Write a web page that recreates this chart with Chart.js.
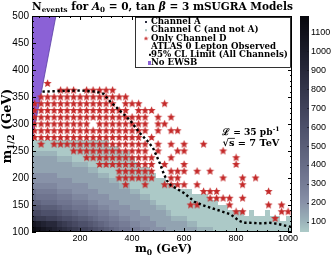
<!DOCTYPE html>
<html>
<head>
<meta charset="utf-8">
<script src="https://cdn.jsdelivr.net/npm/chart.js@4.4.1/dist/chart.umd.min.js"></script>
<style>
  html, body { margin: 0; padding: 0; background: #fff; }
</style>
</head>
<body>
<canvas id="chart" width="331" height="256"></canvas>
<script>
// N events grid: cell centres in m0, cell bottoms in m1/2 (cells are 20 x 10 GeV)
const m0Cells = [20, 40, 60, 80, 100, 120, 140, 160, 180, 200, 220, 240, 260, 280, 300, 320, 340, 360, 380, 400,
  420, 440, 460, 480, 500, 520, 540, 560, 580, 600, 620, 640, 660, 680, 700, 720, 740, 760, 780, 800,
  820, 840, 860, 880, 900, 920, 940, 960, 980, 1000];
const m12Cells = [100, 110, 120, 130, 140, 150, 160, 170, 180, 190, 200, 210, 220, 230, 240, 250, 260];
// one row per m12Cells entry (bottom first), one char per m0 cell: N / 50 in base 36, '.' = no point
const nEventsRows = [
  "nmlkjihgfeedcba98776655444333333222" + "111111111111111",
  "lkjiigfedccba9877665544433333322" + "111111111111111111",
  "gffeedccbaa9877665544443333222" + "111111111111111111" + ".1",
  "ddcccbaa9887766554444333332" + "11111111111111" + ".1..1....",
  "bbaaa988777665544443333322" + "111111111111" + "............",
  "998887776665544443333332" + "111111111111" + "..............",
  "87777666555444433333322" + "11111111111" + "................",
  "766665554444433333322" + "1111111111" + "...................",
  "5555544444433333322" + "111111111" + "......................",
  "44444444333333322" + "111111111" + "........................",
  "444443333333322" + "111111111" + "..........................",
  "3333333333322" + "1111111111" + "...........................",
  "33333333222" + "1111111111" + ".............................",
  "33333222" + "111111111111" + "..............................",
  "22222" + "11111111111111" + "...............................",
  "11111111111111111" + ".................................",
  "111111111111111" + "..................................."
];

// Only Channel D points (stars): grid of 25 x 12.5 GeV
const starM0 = [25, 50, 75, 100, 125, 150, 175, 200, 225, 250, 275, 300, 325, 350, 375, 400, 425, 450, 475, 500,
  525, 550, 575, 600, 625, 650, 675, 700, 725, 750, 775, 800, 825, 850, 875, 900, 925, 950, 975, 1000];
const starM12 = [375, 362.5, 350, 337.5, 325, 312.5, 300, 287.5, 275, 262.5, 250, 237.5, 225, 212.5, 200,
  187.5, 175, 162.5, 150, 137.5, 125];
const starRows = [
  "..*.....................................",
  "....***.*****...........................",
  ".**************.........................",
  "*************.***...*...................",
  "***************.***.....................",
  "******************.*.*..................",
  "*********.********.**...................",
  "******************.*.**.................",
  "*****************.*.....................",
  ".*.***************.*.*.*..*.............",
  "......************.*..**.....*..........",
  "........***********..*.........*........",
  "..........*********.*..*.......*........",
  ".............******..***.*.*............",
  ".............******..**......*..*.*.....",
  "..............*..*..****.*......*.......",
  "..........................***.......*...",
  "...........................****.*.......",
  "........................**....*.....*.*.",
  "...............................**.....**",
  ".....................................*.."
];

// 95% CL limit curve
const limitM0 = [55, 120, 200, 260, 290, 315, 350, 392, 430, 460, 480, 495, 507, 520, 534, 550, 573, 600, 623,
  640, 670, 700, 740, 777, 795, 810, 830, 853, 900, 930, 960, 996, 1015];
const limitM12 = [360, 361, 362, 360, 356, 342, 326, 307, 283, 268, 256, 240, 227, 210, 195, 186, 180, 172, 163,
  156, 150, 145, 139, 133, 127, 121, 117, 117, 116, 117, 115, 111, 109];

// No EWSB boundary
const ewsbM0 = [0, 107];
const ewsbM12 = [231, 500];

const xTicks = [200, 400, 600, 800, 1000];
const yTicks = [100, 150, 200, 250, 300, 350, 400, 450, 500];
const cbTicks = [100, 200, 300, 400, 500, 600, 700, 800, 900, 1000, 1100];
const legendLabels = ["Channel A", "Channel C (and not A)", "Only Channel D", "ATLAS 0 Lepton Observed",
  "95% CL Limit (All Channels)", "No EWSB"];

const SERIF = '"DejaVu Serif", serif';
const SANS = '"Liberation Sans", Arial, sans-serif';
const STAR_RED = "#c42a2a";
const EWSB_PURPLE = "#8b61d6";

const colorStops = [
  [50, [172, 201, 199]], [100, [156, 180, 186]], [200, [136, 146, 168]], [300, [118, 124, 150]],
  [400, [103, 108, 135]], [500, [90, 94, 120]], [600, [77, 80, 106]], [700, [64, 66, 90]],
  [800, [51, 53, 74]], [900, [39, 40, 58]], [1000, [27, 28, 42]], [1100, [16, 16, 26]], [1200, [6, 6, 10]]
];

function nColor(n) {
  if (n <= colorStops[0][0]) return `rgb(${colorStops[0][1].join(",")})`;
  for (let i = 1; i < colorStops.length; i++) {
    const [v1, c1] = colorStops[i];
    const [v0, c0] = colorStops[i - 1];
    if (n <= v1) {
      const t = (n - v0) / (v1 - v0);
      return `rgb(${c0.map((ch, j) => Math.round(ch + (c1[j] - ch) * t)).join(",")})`;
    }
  }
  return `rgb(${colorStops[colorStops.length - 1][1].join(",")})`;
}

function makeStar(size, color) {
  const cv = document.createElement("canvas");
  cv.width = size;
  cv.height = size;
  const g = cv.getContext("2d");
  const c = size / 2, R = size * 0.47, r = R * 0.45;
  g.beginPath();
  for (let i = 0; i < 10; i++) {
    const ang = -Math.PI / 2 + i * Math.PI / 5;
    const rad = i % 2 ? r : R;
    g.lineTo(c + rad * Math.cos(ang), c + rad * Math.sin(ang));
  }
  g.closePath();
  g.fillStyle = color;
  g.fill();
  return cv;
}

// rich text helpers: kind n = bold, i = bold italic, s = subscript, u = superscript
function partFont(kind, size) {
  const s = (kind === "s" || kind === "u") ? size * 0.68 : size;
  return (kind === "i" ? "italic bold " : "bold ") + s.toFixed(2) + "px " + SERIF;
}
function partDy(kind, size) {
  return kind === "s" ? size * 0.28 : kind === "u" ? -size * 0.38 : 0;
}
function richWidth(ctx, parts, size) {
  let w = 0;
  for (const [t, k] of parts) {
    ctx.font = partFont(k, size);
    w += ctx.measureText(t).width;
  }
  return w;
}
function fitRich(ctx, parts, width) {
  return 10 * width / richWidth(ctx, parts, 10);
}
function drawRich(ctx, parts, size, x, y, align) {
  const w = richWidth(ctx, parts, size);
  let cx = align === "center" ? x - w / 2 : align === "right" ? x - w : x;
  ctx.textAlign = "left";
  ctx.textBaseline = "alphabetic";
  const pos = [];
  for (const [t, k] of parts) {
    ctx.font = partFont(k, size);
    ctx.fillText(t, cx, y + partDy(k, size));
    const tw = ctx.measureText(t).width;
    pos.push([cx, tw]);
    cx += tw;
  }
  return pos;
}

const heatmapPlugin = {
  id: "heatmap",
  beforeDatasetsDraw(chart) {
    const { ctx, chartArea: a, scales: { x, y } } = chart;
    ctx.save();
    nEventsRows.forEach((row, k) => {
      const y0 = Math.round(y.getPixelForValue(m12Cells[k] + 10));
      const y1 = Math.round(y.getPixelForValue(m12Cells[k]));
      m0Cells.forEach((m0, c) => {
        const ch = row.charAt(c);
        if (!ch || ch === ".") return;
        const x0 = Math.max(a.left, Math.round(x.getPixelForValue(m0 - 10)));
        const x1 = Math.min(a.right, Math.round(x.getPixelForValue(m0 + 10)));
        ctx.fillStyle = nColor(parseInt(ch, 36) * 50);
        ctx.fillRect(x0, y0, x1 - x0, y1 - y0);
      });
    });
    ctx.restore();
  }
};

const decorPlugin = {
  id: "decor",
  afterDraw(chart) {
    const { ctx, chartArea: a, scales: { x, y, cb } } = chart;
    ctx.save();
    ctx.setLineDash([]);
    ctx.beginPath();

    // frame + inward ticks
    ctx.strokeStyle = "#000";
    ctx.lineWidth = 1;
    ctx.strokeRect(a.left + 0.5, a.top + 0.5, a.right - a.left - 1, a.bottom - a.top - 1);
    ctx.beginPath();
    for (let v = 100; v <= 500; v += 10) {
      const py = Math.round(y.getPixelForValue(v)) + 0.5;
      const len = v % 50 === 0 ? 4 : 2;
      ctx.moveTo(a.left, py); ctx.lineTo(a.left + len, py);
      ctx.moveTo(a.right, py); ctx.lineTo(a.right - len, py);
    }
    for (let v = 40; v <= 1000; v += 40) {
      const px = Math.round(x.getPixelForValue(v)) + 0.5;
      const len = v % 200 === 0 ? 4 : 2;
      ctx.moveTo(px, a.bottom); ctx.lineTo(px, a.bottom - len);
      ctx.moveTo(px, a.top); ctx.lineTo(px, a.top + len);
    }
    ctx.stroke();

    // tick labels
    ctx.fillStyle = "#000";
    ctx.font = "10px " + SANS;
    ctx.textAlign = "right";
    ctx.textBaseline = "middle";
    yTicks.forEach(v => ctx.fillText(String(v), a.left - 3, y.getPixelForValue(v)));
    ctx.font = "9px " + SANS;
    ctx.textAlign = "center";
    xTicks.forEach(v => ctx.fillText(String(v), x.getPixelForValue(v), a.bottom + 6.5));

    // colour bar
    const barL = 300, barW = 9;
    for (let py = Math.round(cb.top); py < Math.round(cb.bottom); py++) {
      ctx.fillStyle = nColor(cb.getValueForPixel(py + 0.5));
      ctx.fillRect(barL, py, barW, 1);
    }
    ctx.strokeStyle = "rgba(20,20,30,0.7)";
    ctx.beginPath();
    cbTicks.forEach(v => {
      const py = Math.round(cb.getPixelForValue(v)) + 0.5;
      ctx.moveTo(barL + barW - 2, py); ctx.lineTo(barL + barW, py);
    });
    ctx.stroke();
    ctx.fillStyle = "#000";
    ctx.font = "9px " + SANS;
    ctx.textAlign = "left";
    ctx.textBaseline = "middle";
    cbTicks.forEach(v => ctx.fillText(String(v), barL + barW + 2, cb.getPixelForValue(v)));

    // title
    const titleParts = [["N", "n"], ["events", "s"], [" for ", "n"], ["A", "i"], ["0", "s"],
      [" = 0, tan ", "n"], ["\u03B2", "i"], [" = 3 mSUGRA Models", "n"]];
    drawRich(ctx, titleParts, fitRich(ctx, titleParts, 261), 162.5, 9.5, "center");

    // axis titles
    const xLab = [["m", "n"], ["0", "s"], [" (GeV)", "n"]];
    drawRich(ctx, xLab, fitRich(ctx, xLab, 57), 163.5, 251.5, "center");
    const yLab = [["m", "n"], ["1/2", "s"], [" (GeV)", "n"]];
    ctx.save();
    ctx.translate(10.5, 126);
    ctx.rotate(-Math.PI / 2);
    drawRich(ctx, yLab, fitRich(ctx, yLab, 75), 0, 0, "center");
    ctx.restore();

    // luminosity annotation
    const ann1 = [["\u2112", "n"], [" = 35 pb", "n"], ["-1", "u"]];
    drawRich(ctx, ann1, fitRich(ctx, ann1, 57), 222, 134.5, "left");
    const ann2 = [["\u221A", "n"], ["s", "n"], [" = 7 TeV", "n"]];
    const annSize = fitRich(ctx, ann2, 57);
    const pos = drawRich(ctx, ann2, annSize, 222.5, 146, "left");
    ctx.strokeStyle = "#000";
    ctx.lineWidth = 0.8;
    ctx.beginPath();
    ctx.moveTo(pos[1][0] - 0.5, 146 - annSize * 0.78);
    ctx.lineTo(pos[1][0] + pos[1][1] + 0.5, 146 - annSize * 0.78);
    ctx.stroke();

    // legend
    const lg = { left: 135, top: 17, right: 291, bottom: 68 };
    ctx.fillStyle = "#fff";
    ctx.fillRect(lg.left, lg.top, lg.right - lg.left, lg.bottom - lg.top);
    ctx.strokeStyle = "#000";
    ctx.lineWidth = 0.8;
    ctx.strokeRect(lg.left + 0.5, lg.top + 0.5, lg.right - lg.left - 1, lg.bottom - lg.top - 1);
    ctx.font = "bold 10px " + SERIF;
    const lgSize = 10 * 137 / ctx.measureText(legendLabels[4]).width;
    ctx.font = "bold " + lgSize.toFixed(2) + "px " + SERIF;
    ctx.textAlign = "left";
    ctx.textBaseline = "middle";
    legendLabels.forEach((lab, i) => {
      const cy = 22 + i * 8.2;
      ctx.fillStyle = "#000";
      ctx.fillText(lab, 151, cy);
      if (i === 0) { ctx.fillStyle = "#2b2d40"; ctx.fillRect(145, cy - 1, 2, 2); }
      if (i === 1) { ctx.fillStyle = nColor(50); ctx.fillRect(145, cy - 1, 2, 2); }
      if (i === 2) { ctx.drawImage(smallStar, 146 - smallStar.width / 2, cy - smallStar.height / 2); }
      if (i === 4) { ctx.fillStyle = "#000"; ctx.fillRect(149, cy - 1, 2, 2); }
      if (i === 5) { ctx.fillStyle = EWSB_PURPLE; ctx.fillRect(148, cy - 2, 3, 4); }
    });
    ctx.restore();
  }
};

const starImg = makeStar(9, STAR_RED);
const smallStar = makeStar(5, STAR_RED);

const starPoints = [];
starRows.forEach((row, r) => {
  for (let c = 0; c < row.length; c++) {
    if (row[c] === "*") starPoints.push({ x: starM0[c], y: starM12[r] });
  }
});
const limitPoints = limitM0.map((m0, i) => ({ x: m0, y: limitM12[i] }));
const ewsbPoints = ewsbM0.map((m0, i) => ({ x: m0, y: ewsbM12[i] }));

new Chart(document.getElementById("chart"), {
  type: "scatter",
  data: {
    datasets: [
      {
        label: legendLabels[4],
        data: limitPoints,
        showLine: true,
        borderColor: "#000",
        borderWidth: 2.4,
        borderDash: [2.4, 2.6],
        pointRadius: 0,
        fill: false,
        order: 0
      },
      {
        label: legendLabels[2],
        data: starPoints,
        pointStyle: starImg,
        pointRadius: 4,
        order: 1
      },
      {
        label: legendLabels[5],
        data: ewsbPoints,
        showLine: true,
        backgroundColor: EWSB_PURPLE,
        borderColor: "#5b3fa5",
        borderWidth: 0.8,
        pointRadius: 0,
        fill: "end",
        order: 2
      }
    ]
  },
  options: {
    responsive: false,
    animation: false,
    events: [],
    layout: { padding: { left: 32, top: 16, right: 39, bottom: 24 } },
    plugins: {
      legend: { display: false },
      tooltip: { enabled: false },
      title: { display: false }
    },
    scales: {
      x: { type: "linear", min: 15, max: 1015, display: false },
      y: { type: "linear", min: 100, max: 500, display: false },
      cb: { type: "linear", position: "right", min: 47, max: 1185, display: false }
    }
  },
  plugins: [heatmapPlugin, decorPlugin]
});
</script>
</body>
</html>
